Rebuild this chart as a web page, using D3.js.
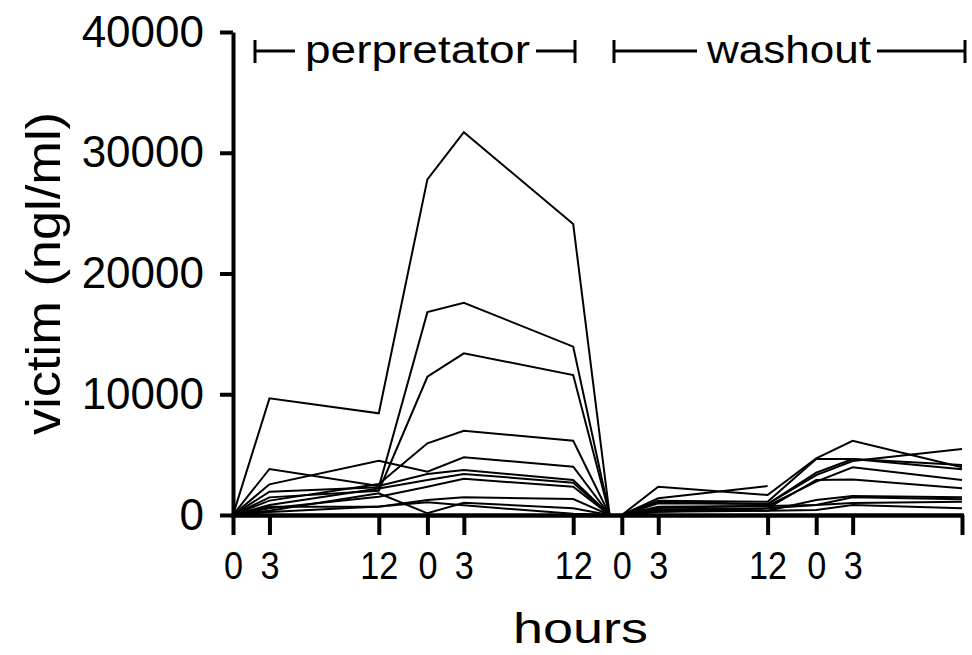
<!DOCTYPE html>
<html>
<head>
<meta charset="utf-8">
<script src="https://cdn.jsdelivr.net/npm/d3@7"></script>
<style>
  html, body { margin: 0; padding: 0; background: #fff; }
  svg { display: block; font-family: "Liberation Sans", Arial, Helvetica, sans-serif; }
</style>
</head>
<body>
<svg id="chart" width="972" height="655"></svg>
<script>
// Sampling times (hours on a continuous timeline) for the two study phases
const perpetratorHours = [0, 3, 12, 16, 19, 28, 31];
const washoutHours = [32, 35, 44, 48, 51, 60];

// Axis ticks
const xTickHours = [0, 3, 12, 16, 19, 28, 32, 35, 44, 48, 51, 60];
const xTickLabels = ["0", "3", "12", "0", "3", "12", "0", "3", "12", "0", "3", ""];
const yTickValues = [0, 10000, 20000, 30000, 40000];

// Victim drug concentration (ng/ml) per subject, perpetrator phase
const perpetratorSeries = [
  [0, 9660, 8420, 27800, 31700, 24100, 0],
  [0, 1930, 2290, 16800, 17580, 13940, 0],
  [0, 1460, 2010, 11450, 13390, 11590, 0],
  [0, 1190, 2570, 5940, 6980, 6150, 0],
  [0, 2540, 4500, 3590, 4780, 4000, 0],
  [0, 3810, 2400, 3400, 3730, 2900, 0],
  [0, 830, 2200, 2900, 3400, 2680, 0],
  [0, 550, 1520, 2340, 3000, 2340, 0],
  [0, 690, 690, 1240, 1460, 1320, 0],
  [0, 360, 1790, 140, 1020, 550, 0],
  [0, 250, 700, 1060, 800, 100, 0]
];

// Victim drug concentration (ng/ml) per subject, washout phase (null = not sampled)
const washoutSeries = [
  [0, 2340, 1660, 4690, 6150, 3950],
  [0, 1380, 2400, null, null, null],
  [0, 1190, 1100, 4640, 4640, 4140],
  [0, 970, 910, 3310, 4470, 5460],
  [0, 690, 750, 2760, 3950, 2900],
  [0, 1100, 900, 3500, 4640, 3780],
  [0, 470, 550, 2900, 2950, 2210],
  [0, 400, 360, 1240, 1570, 1460],
  [0, 270, 550, 830, 1460, 1300],
  [0, 600, 750, 830, 1000, 1100],
  [0, 270, 360, 410, 830, 550]
];

const svg = d3.select("#chart");

const x = d3.scaleLinear().domain([0, 60]).range([233, 962]);
const y = d3.scaleLinear().domain([0, 40000]).range([515, 32]);

// Subject curves
const line = d3.line()
  .defined(d => d[1] != null)
  .x(d => x(d[0]))
  .y(d => y(d[1]));

const curves = svg.append("g")
  .attr("fill", "none")
  .attr("stroke", "#000")
  .attr("stroke-width", 2)
  .attr("stroke-linejoin", "miter");

perpetratorSeries.forEach(vals => {
  curves.append("path").attr("d", line(perpetratorHours.map((h, i) => [h, vals[i]])));
});
washoutSeries.forEach(vals => {
  curves.append("path").attr("d", line(washoutHours.map((h, i) => [h, vals[i]])));
});

// Y axis
const yAxis = svg.append("g")
  .attr("transform", "translate(233,0)")
  .call(d3.axisLeft(y).tickValues(yTickValues).tickFormat(d3.format("d"))
    .tickSize(13).tickSizeOuter(0).tickPadding(16));
yAxis.select(".domain").attr("stroke-width", 4);
yAxis.selectAll(".tick line").attr("stroke-width", 4);
yAxis.selectAll(".tick text")
  .attr("fill", "#000")
  .style("font-size", "44px")
  .style("font-family", "'Liberation Sans', Arial, sans-serif");

// X axis
const xAxis = svg.append("g")
  .attr("transform", "translate(0,515)")
  .call(d3.axisBottom(x).tickValues(xTickHours)
    .tickFormat((d, i) => xTickLabels[i])
    .tickSize(20).tickSizeOuter(0).tickPadding(17));
xAxis.select(".domain").attr("stroke-width", 4.5).attr("d", `M${x(0) - 2},0.5H${x(60) + 2}`);
xAxis.selectAll(".tick line").attr("stroke-width", 4);
xAxis.selectAll(".tick text")
  .attr("fill", "#000")
  .attr("transform", "scale(0.9,1)")
  .style("font-size", "38px")
  .style("font-family", "'Liberation Sans', Arial, sans-serif");

// Axis titles
svg.append("text")
  .attr("transform", "translate(60,273.5) rotate(-90)")
  .attr("text-anchor", "middle")
  .attr("textLength", 323)
  .attr("lengthAdjust", "spacingAndGlyphs")
  .style("font-size", "48px")
  .text("victim (ngl/ml)");

svg.append("text")
  .attr("x", 513)
  .attr("y", 643)
  .attr("textLength", 135)
  .attr("lengthAdjust", "spacingAndGlyphs")
  .style("font-size", "42px")
  .text("hours");

// Phase brackets along the top
const phases = [
  { name: "perpretator", x0: 255, x1: 575, t0: 305, t1: 530 },
  { name: "washout", x0: 614, x1: 965, t0: 707, t1: 871 }
];
const brackets = svg.append("g").attr("stroke", "#000").attr("stroke-width", 3);
phases.forEach(p => {
  brackets.append("line").attr("x1", p.x0).attr("x2", p.x0).attr("y1", 40).attr("y2", 63);
  brackets.append("line").attr("x1", p.x0).attr("x2", p.t0 - 10).attr("y1", 51).attr("y2", 51);
  brackets.append("line").attr("x1", p.t1 + 6).attr("x2", p.x1).attr("y1", 51).attr("y2", 51);
  brackets.append("line").attr("x1", p.x1).attr("x2", p.x1).attr("y1", 40).attr("y2", 63);
  svg.append("text")
    .attr("x", p.t0)
    .attr("y", 63)
    .attr("textLength", p.t1 - p.t0)
    .attr("lengthAdjust", "spacingAndGlyphs")
    .style("font-size", "38px")
    .text(p.name);
});
</script>
</body>
</html>
